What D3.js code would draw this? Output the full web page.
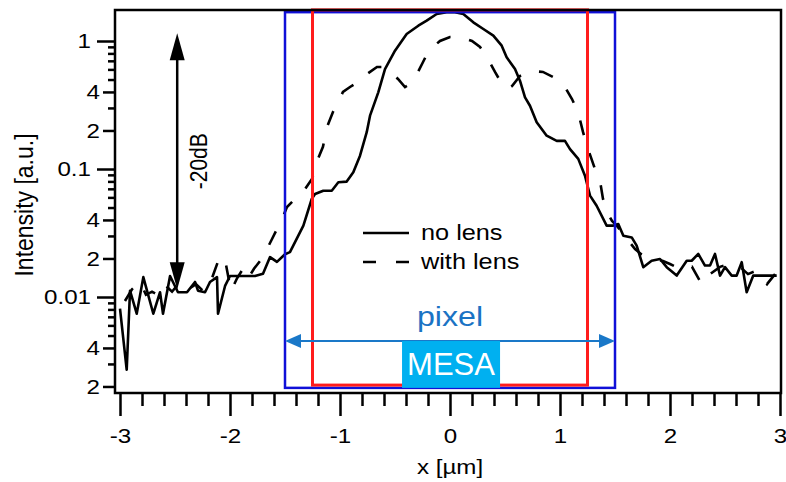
<!DOCTYPE html>
<html><head><meta charset="utf-8">
<script src="https://cdn.jsdelivr.net/npm/d3@7"></script>
<style>
html,body{margin:0;padding:0;background:#fff;}
svg text{font-family:"Liberation Sans",Arial,sans-serif;}
</style></head>
<body><svg id="c" width="786" height="482"></svg>
<script>
// ---- data ----
const noLensX = [-3.0,-2.939,-2.909,-2.848,-2.788,-2.697,-2.636,-2.609,-2.545,-2.473,-2.391,-2.318,-2.291,-2.227,-2.182,-2.118,-2.109,-2.045,-2.0,-1.882,-1.773,-1.7,-1.636,-1.573,-1.5,-1.455,-1.333,-1.257,-1.227,-1.152,-1.075,-1.015,-0.939,-0.879,-0.818,-0.757,-0.727,-0.652,-0.591,-0.5,-0.394,-0.288,-0.212,-0.121,-0.03,0.045,0.121,0.212,0.303,0.394,0.47,0.515,0.591,0.636,0.682,0.727,0.788,0.879,0.97,1.045,1.091,1.166,1.227,1.273,1.333,1.424,1.485,1.53,1.576,1.652,1.697,1.757,1.833,1.909,1.97,2.061,2.152,2.197,2.257,2.318,2.364,2.409,2.455,2.5,2.561,2.606,2.652,2.697,2.757,2.848,2.97];
const noLensY = [0.0081,0.0027,0.0112,0.0074,0.0143,0.0074,0.0109,0.0074,0.0146,0.0109,0.0109,0.0131,0.0112,0.0109,0.0131,0.0143,0.0074,0.0122,0.0146,0.0146,0.0146,0.0152,0.0205,0.0188,0.0216,0.0224,0.0361,0.0583,0.0638,0.0677,0.0677,0.0787,0.0797,0.0942,0.127,0.194,0.261,0.397,0.604,0.84,1.134,1.317,1.441,1.625,1.676,1.676,1.625,1.40,1.241,1.10,0.919,0.746,0.604,0.49,0.363,0.312,0.232,0.182,0.166,0.166,0.143,0.12,0.0886,0.0619,0.0516,0.0361,0.0361,0.0372,0.0301,0.0292,0.0252,0.0171,0.0192,0.0198,0.0171,0.0147,0.0192,0.0192,0.0217,0.0176,0.0176,0.0217,0.0147,0.0171,0.0147,0.0147,0.0187,0.0109,0.0147,0.0147,0.0147];
const withLensX = [-2.955,-2.891,-2.818,-2.764,-2.709,-2.655,-2.6,-2.527,-2.455,-2.382,-2.309,-2.236,-2.164,-2.091,-2.036,-1.991,-1.936,-1.882,-1.836,-1.782,-1.727,-1.673,-1.627,-1.582,-1.527,-1.482,-1.409,-1.336,-1.255,-1.2,-1.155,-1.118,-1.064,-1.018,-0.973,-0.909,-0.836,-0.755,-0.664,-0.6,-0.545,-0.473,-0.409,-0.364,-0.291,-0.245,-0.2,-0.145,-0.091,0,0.091,0.2,0.273,0.345,0.409,0.473,0.527,0.564,0.636,0.727,0.845,0.973,1.045,1.109,1.164,1.209,1.255,1.318,1.364,1.391,1.427,1.473,1.518,1.609,1.682,1.736,1.818,1.873,1.936,2.0,2.091,2.145,2.2,2.273,2.3,2.364,2.455,2.545,2.636,2.709,2.782,2.882,2.955];
const withLensY = [0.0093,0.0115,0.0131,0.0104,0.011,0.0104,0.0126,0.011,0.0131,0.0115,0.0126,0.011,0.014,0.0209,0.0178,0.0111,0.014,0.0166,0.014,0.0166,0.0191,0.0229,0.0274,0.0328,0.0407,0.0505,0.0583,0.0661,0.0835,0.120,0.149,0.213,0.279,0.334,0.400,0.437,0.478,0.552,0.626,0.626,0.583,0.505,0.437,0.461,0.573,0.685,0.820,0.914,1.0,1.075,1.075,1.0,0.898,0.723,0.573,0.461,0.422,0.445,0.533,0.583,0.573,0.505,0.437,0.352,0.279,0.195,0.143,0.1,0.0806,0.0583,0.0461,0.0393,0.0359,0.0284,0.0237,0.0217,0.0205,0.0198,0.0191,0.0181,0.0166,0.0166,0.0172,0.0133,0.0126,0.0151,0.0172,0.0181,0.0172,0.0151,0.016,0.0126,0.0151];
const xMajorTicks = [-3,-2,-1,0,1,2,3];
const xMinorTicks = [-2.8,-2.6,-2.4,-2.2,-1.8,-1.6,-1.4,-1.2,-0.8,-0.6,-0.4,-0.2,0.2,0.4,0.6,0.8,1.2,1.4,1.6,1.8,2.2,2.4,2.6,2.8];
const yMajorTicks = [1,0.1,0.01];
const yMidTicks = [0.4,0.2,0.04,0.02,0.004,0.002];
const yMinorTicks = [0.9,0.8,0.7,0.6,0.5,0.3,0.09,0.08,0.07,0.06,0.05,0.03,0.009,0.008,0.007,0.006,0.005,0.003];
const seriesNames = ["no lens","with lens"];
const pixelRange = [-1.5,1.5], pixelY = [0.00195,1.68];
const mesaRange = [-1.25,1.25], mesaY = [0.00205,1.75];
const pixelArrowY = 0.00453;
const mesaLabelBox = {x0:-0.436,x1:0.455,y0:0.00453,y1:0.00195};
const dbArrow = {x:-2.48, top:1.15, bottom:0.0115};

// ---- scales ----
const svg = d3.select("#c");
const x = d3.scaleLinear().domain([-3,3]).range([120,780]);
const y = d3.scaleLog().domain([1,0.01]).range([41,297]);
const L=115,R=781,T=10,B=393;
const SX=1.15;

// curves
const line = d3.line().x((d)=>x(d[0])).y((d)=>y(d[1]));
const noLens = noLensX.map((v,i)=>[v,noLensY[i]]);
const withLens = withLensX.map((v,i)=>[v,withLensY[i]]);
svg.append("path").attr("d",line(withLens)).attr("fill","none").attr("stroke","#000").attr("stroke-width",2.6).attr("stroke-dasharray","15,19");
svg.append("path").attr("d",line(noLens)).attr("fill","none").attr("stroke","#000").attr("stroke-width",2.6).attr("stroke-linejoin","round");

// pixel / mesa rectangles
svg.append("rect").attr("x",x(pixelRange[0])).attr("y",y(pixelY[1])).attr("width",x(pixelRange[1])-x(pixelRange[0])).attr("height",y(pixelY[0])-y(pixelY[1]))
  .attr("fill","none").attr("stroke","#1010d8").attr("stroke-width",2.5);
svg.append("rect").attr("x",x(mesaRange[0])).attr("y",y(mesaY[1])).attr("width",x(mesaRange[1])-x(mesaRange[0])).attr("height",y(mesaY[0])-y(mesaY[1]))
  .attr("fill","none").attr("stroke","#ff1c1c").attr("stroke-width",3);

// pixel arrow
const ac="#1a78c8";
const ay=y(pixelArrowY), ax0=x(pixelRange[0]), ax1=x(pixelRange[1]);
svg.append("line").attr("x1",ax0+10).attr("x2",ax1-10).attr("y1",ay).attr("y2",ay).attr("stroke",ac).attr("stroke-width",2);
svg.append("path").attr("d",`M${ax0},${ay}L${ax0+16},${ay-7}L${ax0+16},${ay+7}Z`).attr("fill",ac);
svg.append("path").attr("d",`M${ax1},${ay}L${ax1-16},${ay-7}L${ax1-16},${ay+7}Z`).attr("fill",ac);
svg.append("text").attr("transform",`translate(${x(0)},${ay-15}) scale(${SX},1)`).attr("text-anchor","middle").attr("fill","#1a73c4").style("font-size","28px").text("pixel");
// MESA box
svg.append("rect").attr("x",x(mesaLabelBox.x0)).attr("y",y(mesaLabelBox.y0)).attr("width",x(mesaLabelBox.x1)-x(mesaLabelBox.x0)).attr("height",y(mesaLabelBox.y1)-y(mesaLabelBox.y0)).attr("fill","#00b0f0");
svg.append("text").attr("x",(x(mesaLabelBox.x0)+x(mesaLabelBox.x1))/2).attr("y",375).attr("text-anchor","middle").attr("fill","#fff").style("font-size","31px").text("MESA");

// -20dB arrow
const dx=x(dbArrow.x), dt=y(dbArrow.top), db=y(dbArrow.bottom);
svg.append("line").attr("x1",dx).attr("x2",dx).attr("y1",dt+20).attr("y2",db-20).attr("stroke","#000").attr("stroke-width",2.5);
svg.append("path").attr("d",`M${dx},${dt}L${dx-7.5},${dt+27}L${dx+7.5},${dt+27}Z`).attr("fill","#000");
svg.append("path").attr("d",`M${dx},${db}L${dx-7.5},${db-27}L${dx+7.5},${db-27}Z`).attr("fill","#000");
svg.append("text").attr("transform",`translate(${dx+30},${(dt+db)/2}) rotate(-90) scale(1,${SX})`).attr("text-anchor","middle").style("font-size","21px").text("-20dB");

// legend
const lg = svg.append("g");
lg.append("line").attr("x1",363).attr("x2",409).attr("y1",233).attr("y2",233).attr("stroke","#000").attr("stroke-width",2.6);
lg.append("line").attr("x1",363).attr("x2",409).attr("y1",262).attr("y2",262).attr("stroke","#000").attr("stroke-width",2.6).attr("stroke-dasharray","13,20");
lg.append("text").attr("transform",`translate(421,240) scale(${SX},1)`).style("font-size","22px").text(seriesNames[0]);
lg.append("text").attr("transform",`translate(421,269) scale(${SX},1)`).style("font-size","22px").text(seriesNames[1]);

// frame
svg.append("rect").attr("x",L).attr("y",T).attr("width",R-L).attr("height",B-T).attr("fill","none").attr("stroke","#000").attr("stroke-width",2.5);

// x axis
function styleAxis(g){ g.select(".domain").remove(); g.selectAll(".tick line").attr("stroke","#000").attr("stroke-width",2.5); }
const gxMin = svg.append("g").attr("transform",`translate(0,${B})`).call(d3.axisBottom(x).tickValues(xMinorTicks).tickSize(13).tickFormat(""));
styleAxis(gxMin);
const gx = svg.append("g").attr("transform",`translate(0,${B})`).call(d3.axisBottom(x).tickValues(xMajorTicks).tickSize(23).tickPadding(12).tickFormat((d)=>String(d)));
styleAxis(gx);
gx.selectAll(".tick text").attr("fill","#000").style("font-size","21px").style("font-family","'Liberation Sans',Arial,sans-serif").attr("transform",`scale(${SX},1)`);

// y axis
const gyMin = svg.append("g").attr("transform",`translate(${L},0)`).call(d3.axisLeft(y).tickValues(yMinorTicks).tickSize(7).tickFormat(""));
styleAxis(gyMin);
const gyMid = svg.append("g").attr("transform",`translate(${L},0)`).call(d3.axisLeft(y).tickValues(yMidTicks).tickSize(12).tickPadding(3).tickFormat((d)=>String(Math.round(d/Math.pow(10,Math.floor(Math.log10(d)+1e-9))))));
styleAxis(gyMid);
const gy = svg.append("g").attr("transform",`translate(${L},0)`).call(d3.axisLeft(y).tickValues(yMajorTicks).tickSize(18).tickPadding(6).tickFormat((d)=>String(d)));
styleAxis(gy);
[gyMid,gy].forEach((g)=>{
  g.selectAll(".tick text").each(function(){ const t=d3.select(this); t.attr("x", (+t.attr("x"))/SX); })
   .attr("transform",`scale(${SX},1)`).attr("fill","#000").style("font-size","21px").style("font-family","'Liberation Sans',Arial,sans-serif");
});

// axis titles
svg.append("text").attr("transform",`translate(${x(0)},474) scale(${SX},1)`).attr("text-anchor","middle").style("font-size","21px").text("x [µm]");
svg.append("text").attr("transform",`translate(33,205) rotate(-90) scale(1,${SX})`).attr("text-anchor","middle").style("font-size","23px").text("Intensity [a.u.]");
</script></body></html>
